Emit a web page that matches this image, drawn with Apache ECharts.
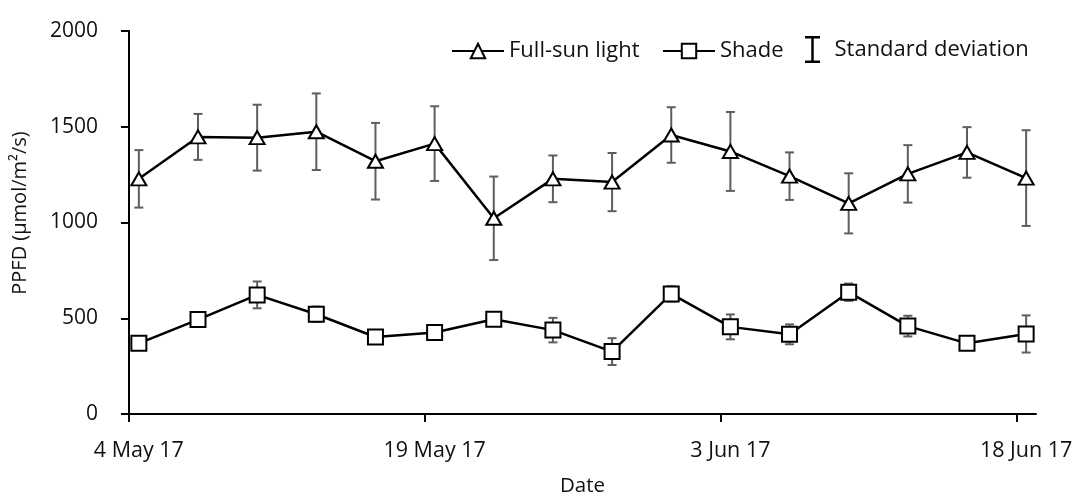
<!DOCTYPE html>
<html>
<head>
<meta charset="utf-8">
<script src="https://cdn.jsdelivr.net/npm/echarts@6/dist/echarts.min.js"></script>
<style>
html,body{margin:0;padding:0;background:#fff;overflow:hidden;}
#chart{width:1079px;height:502px;}
</style>
</head>
<body>
<div id="chart"></div>
<script>
// ---- data ----
const axisStartDate = '2017-05-04';
const axisEndDate = '2017-06-19';
const sampleDates = ['2017-05-04','2017-05-07','2017-05-10','2017-05-13','2017-05-16','2017-05-19','2017-05-22','2017-05-25',
                     '2017-05-28','2017-05-31','2017-06-03','2017-06-06','2017-06-09','2017-06-12','2017-06-15','2017-06-18'];
const fullSun   = [1228,1447,1443,1474,1320,1412,1022,1228,1211,1457,1371,1242,1100,1254,1366,1232];
const fullSunSD = [150,120,172,200,200,195,218,122,152,145,206,124,157,150,132,250];
const shade     = [369,493,622,521,402,426,495,438,326,627,455,416,636,459,369,418];
const shadeSD   = [25,25,70,40,20,20,20,64,70,40,65,52,45,54,25,97];
const tickDates  = ['2017-05-04','2017-05-19','2017-06-03','2017-06-18'];
const tickLabels = ['4 May 17','19 May 17','3 Jun 17','18 Jun 17'];
const yTicks = [0,500,1000,1500,2000];

// ---- helpers ----
const DAY = 86400000;
const dayIdx = d => (Date.parse(d) - Date.parse(axisStartDate)) / DAY;
const axisMax = dayIdx(axisEndDate);
const xs = sampleDates.map(d => dayIdx(d) + 0.5);           // points at day centre
const tickPos = tickDates.map(d => dayIdx(d));                // ticks at day boundary
const labelPos = tickDates.map(d => dayIdx(d) + 0.5);         // labels at day centre

const sunData = xs.map((x,i) => [x, fullSun[i]]);
const shadeData = xs.map((x,i) => [x, shade[i]]);
const errData = xs.map((x,i) => [x, fullSun[i]-fullSunSD[i], fullSun[i]+fullSunSD[i]])
  .concat(xs.map((x,i) => [x, shade[i]-shadeSD[i], shade[i]+shadeSD[i]]));

const FONT = '"Open Sans", "Noto Sans", sans-serif';
const TXT = '#111';

const chart = echarts.init(document.getElementById('chart'), null, {renderer:'canvas'});
const ibeam = 'path://M0,0h15v2.5h-15z M6.25,0h2.5v27h-2.5z M0,24.5h15v2.5h-15z';
const legendText = {fontFamily:FONT, fontSize:22, lineHeight:22, color:TXT};

chart.setOption({
  animation: false,
  backgroundColor: '#fff',
  grid: {left:129, right:43, top:31, bottom:82, containLabel:false},
  legend: [
    {data:['Full-sun light'], left:446, top:35, itemWidth:52, itemHeight:18, selectedMode:false, textStyle:legendText},
    {data:['Shade'], left:657, top:35, itemWidth:52, itemHeight:18, selectedMode:false, textStyle:legendText},
    {data:[{name:'Standard deviation', icon:ibeam, itemStyle:{color:'#000'}}], left:800, top:31,
     itemWidth:34, itemHeight:27, selectedMode:false, textStyle:legendText}
  ],
  xAxis: {
    type:'value', min:0, max:axisMax,
    name:'Date', nameLocation:'middle', nameGap:62,
    nameTextStyle:{fontFamily:FONT, fontSize:20.5, color:TXT},
    axisLine:{show:true, onZero:false, lineStyle:{color:'#000', width:2}},
    axisTick:{show:true, length:8, lineStyle:{color:'#000', width:2}, customValues:tickPos},
    axisLabel:{customValues:labelPos, margin:26, fontFamily:FONT, fontSize:21.5, color:TXT,
      formatter: v => { const k = labelPos.findIndex(p => Math.abs(p - v) < 1e-6); return k >= 0 ? tickLabels[k] : ''; }},
    splitLine:{show:false}
  },
  yAxis: {
    type:'value', min:0, max:2000, interval:500,
    axisLine:{show:true, lineStyle:{color:'#000', width:2}},
    axisTick:{show:true, length:8, lineStyle:{color:'#000', width:2}},
    axisLabel:{margin:31, fontFamily:FONT, fontSize:21, color:TXT,
      formatter: v => yTicks.includes(v) ? String(v) : ''},
    splitLine:{show:false}
  },
  graphic: [{
    type:'text', x:20, y:213, rotation:Math.PI/2,
    style:{text:'PPFD (µmol/m²/s)', fontFamily:FONT, fontSize:20, fill:TXT, align:'center', verticalAlign:'middle'}
  }],
  series: [
    {
      name:'Standard deviation', type:'custom', z:1, data:errData,
      encode:{x:0, y:[1,2]},
      itemStyle:{color:'#000'},
      renderItem:(params, api) => {
        const x = api.value(0);
        const lo = api.coord([x, api.value(1)]);
        const hi = api.coord([x, api.value(2)]);
        const hw = 4.5;
        const st = {stroke:'#5e5e5e', lineWidth:2};
        return {type:'group', children:[
          {type:'line', shape:{x1:hi[0], y1:hi[1], x2:lo[0], y2:lo[1]}, style:st},
          {type:'line', shape:{x1:hi[0]-hw, y1:hi[1], x2:hi[0]+hw, y2:hi[1]}, style:st},
          {type:'line', shape:{x1:lo[0]-hw, y1:lo[1], x2:lo[0]+hw, y2:lo[1]}, style:st}
        ]};
      }
    },
    {
      name:'Full-sun light', type:'line', z:3, data:sunData,
      symbol:'triangle', symbolSize:[15,13], showSymbol:true,
      lineStyle:{color:'#000', width:2.5},
      itemStyle:{color:'#fff', borderColor:'#000', borderWidth:2},
      emphasis:{disabled:true}
    },
    {
      name:'Shade', type:'line', z:3, data:shadeData,
      symbol:'rect', symbolSize:15, showSymbol:true,
      lineStyle:{color:'#000', width:2.5},
      itemStyle:{color:'#fff', borderColor:'#000', borderWidth:2},
      emphasis:{disabled:true}
    }
  ]
});
</script>
</body>
</html>
